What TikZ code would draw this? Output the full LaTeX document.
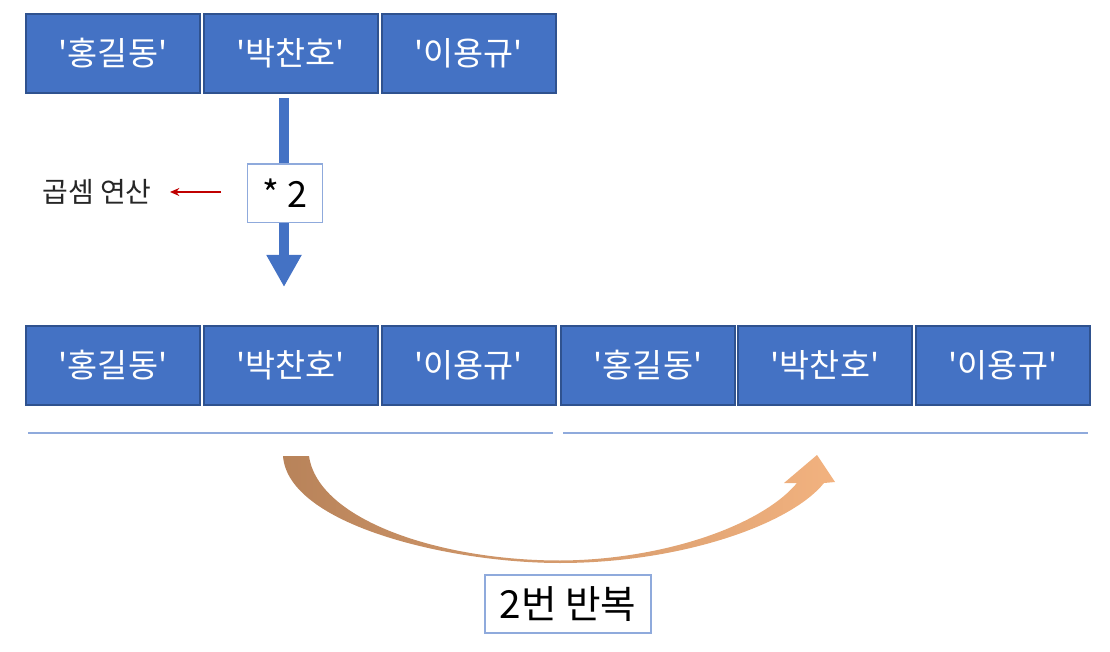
\documentclass[tikz,border=0pt]{standalone}
\usepackage{fontspec}
\setmainfont{Noto Sans CJK KR}[Ligatures=TeXOff]
\usetikzlibrary{arrows.meta}
\definecolor{boxblue}{HTML}{4472C4}
\definecolor{boxedge}{HTML}{2F528F}
\definecolor{lineblue}{HTML}{8FAADC}
\definecolor{arrred}{HTML}{C00000}
\definecolor{brownL}{HTML}{B8835A}
\definecolor{brownR}{HTML}{F2B27F}
\definecolor{txtgrey}{HTML}{262626}
\tikzset{
  item/.style={draw=boxedge, line width=1.5pt, fill=boxblue, text=white,
    minimum width=130.5pt, minimum height=59.25pt, inner sep=0pt,
    font=\fontsize{24.5}{27}\selectfont},
  labelbox/.style={draw=lineblue, line width=1pt, fill=white, text=black, inner sep=0pt},
  sepline/.style={draw=lineblue, line width=1.5pt},
}
\begin{document}
\begin{tikzpicture}[x=0.75pt, y=-0.75pt]
\useasboundingbox (0,0) rectangle (1110,652);
% top row
\node[item] (t1) at (113,53.5) {'홍길동'};
\node[item] (t2) at (290.5,53.5) {'박찬호'};
\node[item] (t3) at (468.5,53.5) {'이용규'};
% bottom row
\node[item] (b1) at (113,365) {'홍길동'};
\node[item] (b2) at (290.5,365) {'박찬호'};
\node[item] (b3) at (468.5,365) {'이용규'};
\node[item] (b4) at (648,365) {'홍길동'};
\node[item] (b5) at (825,365) {'박찬호'};
\node[item] (b6) at (1003,365) {'이용규'};
% separator lines
\coordinate (l1a) at (28,433); \coordinate (l1b) at (553,433);
\coordinate (l2a) at (563,433); \coordinate (l2b) at (1088,433);
\draw[sepline] (l1a) -- (l1b);
\draw[sepline] (l2a) -- (l2b);
% blue down arrow
\coordinate (dstart) at (284,98);
\coordinate (dtip) at (284,287);
\draw[draw=boxblue, line width=7.5pt, -{Triangle[width=24.75pt, length=24pt]}] (dstart) -- (dtip);
\node[labelbox, minimum width=56pt, minimum height=44pt, font=\fontsize{27}{29}\selectfont] (mul) at (285,193.5) {* 2};
% red arrow and label
\node[text=txtgrey, font=\fontsize{21}{24}\selectfont, anchor=east, inner sep=0pt] (oplabel) at (152,192) {곱셈 연산};
\coordinate (rstart) at (221,192);
\coordinate (rend) at (170,192);
\draw[arrred, line width=1.2pt, -{Stealth[length=7pt, width=6pt]}] (rstart) -- (rend);
% curved arrow
\shade[left color=brownL, right color=brownR]
  (283,456) .. controls (288,525) and (450,563) .. (560,563)
  .. controls (680,563) and (790,525) .. (824,483)
  -- (835,482) -- (817,455) -- (784,483) -- (797,483)
  .. controls (760,527) and (660,560) .. (560,560.5)
  .. controls (440,560.5) and (318,520) .. (309,456) -- cycle;
% repeat label
\node[labelbox, minimum width=124.5pt, minimum height=43.5pt, font=\fontsize{29}{31}\selectfont] (rep) at (568,604) {2번 반복};
\end{tikzpicture}
\end{document}
